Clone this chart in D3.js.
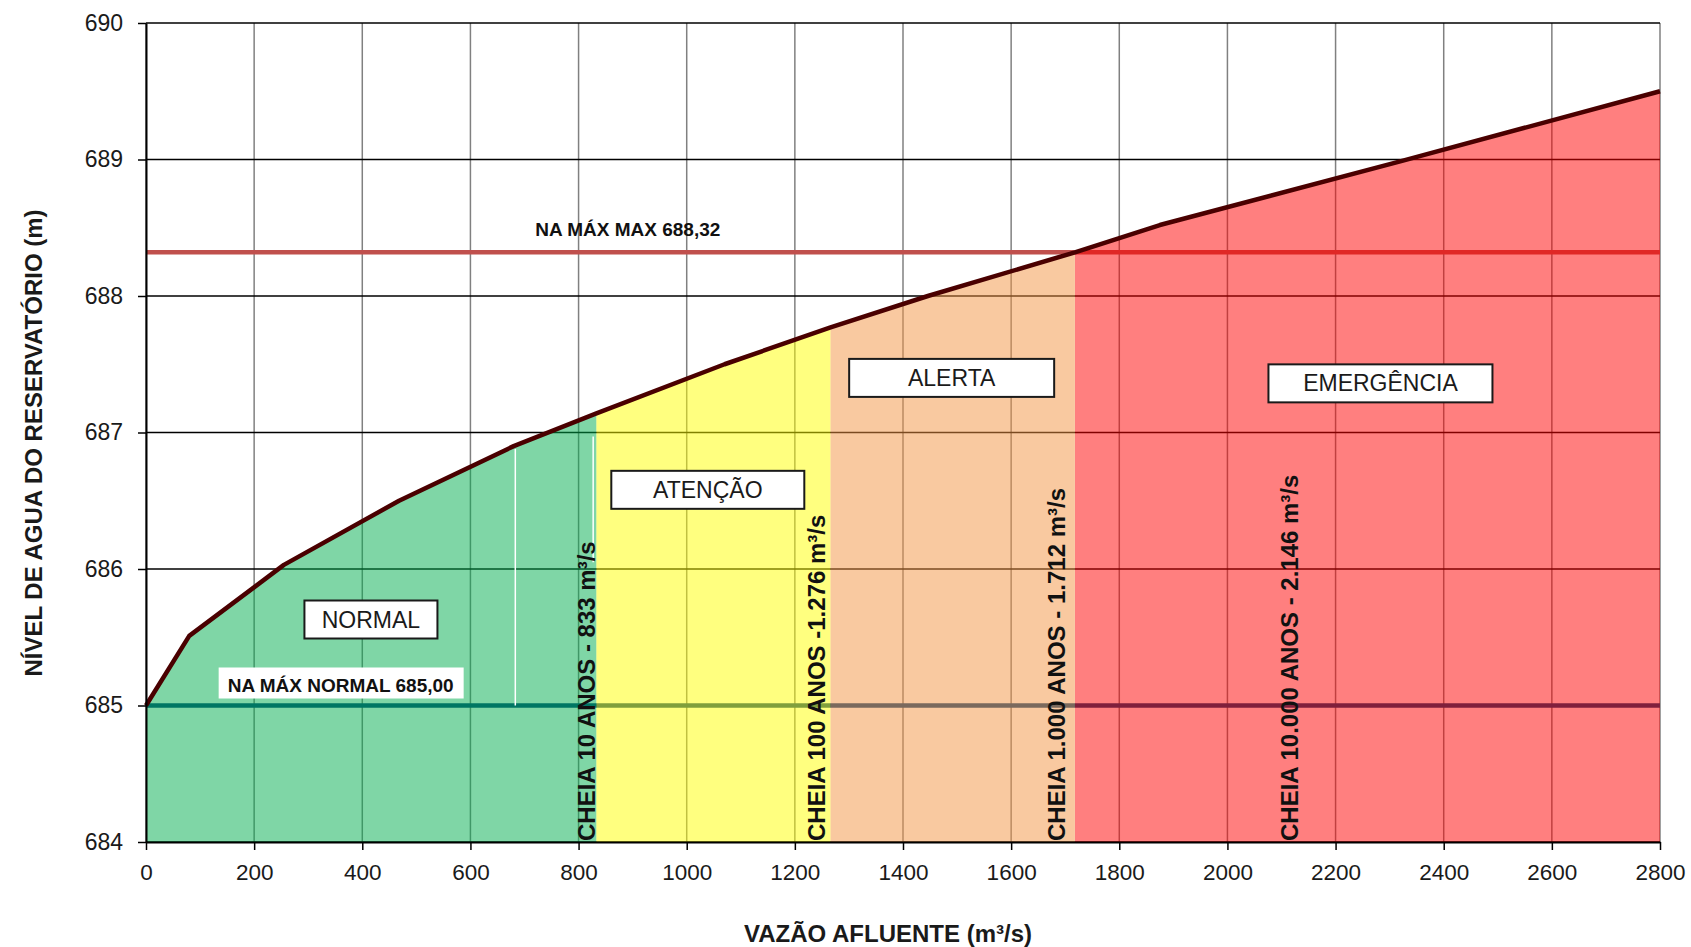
<!DOCTYPE html>
<html>
<head>
<meta charset="utf-8">
<script src="https://cdn.jsdelivr.net/npm/d3@7"></script>
<style>
    body { margin: 0; background: #fff; }
    svg { display: block; font-family: 'Liberation Sans', Arial, sans-serif; }
</style>
</head>
<body>
<svg width="1691" height="947"></svg>
<script>
// curva cota x vazão
const vazao = [0, 80, 255, 468, 680, 833, 1070, 1266, 1446, 1718, 1875, 2323, 2800];
const nivel = [685.0, 685.51, 686.03, 686.5, 686.9, 687.14, 687.5, 687.77, 688.0, 688.32, 688.52, 688.99, 689.5];

// faixas de operação
const zoneNames = ['NORMAL', 'ATENÇÃO', 'ALERTA', 'EMERGÊNCIA'];
const zoneLimits = [0, 833, 1266, 1718, 2800];
const zoneLabelX = [416, 1039, 1490, 2283];
const zoneLabelY = [685.63, 686.58, 687.4, 687.36];

// cheias
const floodLabels = [
    'CHEIA 10 ANOS - 833 m³/s',
    'CHEIA 100 ANOS -1.276 m³/s',
    'CHEIA 1.000 ANOS - 1.712 m³/s',
    'CHEIA 10.000 ANOS - 2.146 m³/s',
];
const floodLabelX = [831, 1256, 1700, 2131];

// níveis de referência
const refLevels = [685.0, 688.32];
const refLabels = ['NA MÁX NORMAL 685,00', 'NA MÁX MAX 688,32'];
const refLabelX = [360, 891];

const xTicks = d3.range(0, 2801, 200);
const yTicks = [684, 685, 686, 687, 688, 689, 690];

const zoneColors = ['#00AD4D', '#FFFF00', '#F39341', '#FF0000'];
const boxWidths = [133, 193, 205, 224];
const refColors = ['#003F78', '#C0504D'];

const margin = { top: 23, right: 31, bottom: 105, left: 146 };
const width = 1691 - margin.left - margin.right;
const height = 947 - margin.top - margin.bottom;

const xScale = d3.scaleLinear().domain([0, 2800]).range([0, width]);
const yScale = d3.scaleLinear().domain([684, 690]).range([height, 0]);

const svg = d3.select('svg');
const g = svg.append('g').attr('transform', `translate(${margin.left},${margin.top})`);

// grade
g.append('g')
    .selectAll('line')
    .data(xTicks)
    .join('line')
    .attr('x1', (d) => xScale(d))
    .attr('x2', (d) => xScale(d))
    .attr('y1', 0)
    .attr('y2', height)
    .attr('stroke', '#808080')
    .attr('stroke-width', 1.5);

g.append('g')
    .selectAll('line')
    .data(yTicks)
    .join('line')
    .attr('x1', 0)
    .attr('x2', width)
    .attr('y1', (d) => yScale(d))
    .attr('y2', (d) => yScale(d))
    .attr('stroke', '#000')
    .attr('stroke-width', 1.5);

// linhas de NA
g.append('g')
    .selectAll('line')
    .data(refLevels)
    .join('line')
    .attr('x1', 0)
    .attr('x2', width)
    .attr('y1', (d) => yScale(d))
    .attr('y2', (d) => yScale(d))
    .attr('stroke', (d, i) => refColors[i])
    .attr('stroke-width', 4.5);

const curveData = vazao.map((v, i) => ({ vazao: v, nivel: nivel[i] }));

const area = d3
    .area()
    .x((d) => xScale(d.vazao))
    .y0(yScale(684))
    .y1((d) => yScale(d.nivel));

const defs = svg.append('defs');
zoneNames.forEach((name, i) => {
    defs.append('clipPath')
        .attr('id', 'zone' + i)
        .append('rect')
        .attr('x', xScale(zoneLimits[i]))
        .attr('y', 0)
        .attr('width', xScale(zoneLimits[i + 1]) - xScale(zoneLimits[i]))
        .attr('height', height);

    g.append('path')
        .attr('d', area(curveData))
        .attr('clip-path', 'url(#zone' + i + ')')
        .attr('fill', zoneColors[i])
        .attr('fill-opacity', 0.5);
});

// traços brancos que aparecem no original
g.append('line')
    .attr('x1', xScale(683))
    .attr('x2', xScale(683))
    .attr('y1', yScale(685))
    .attr('y2', yScale(686.88))
    .attr('stroke', '#fff')
    .attr('stroke-width', 1.5);
g.append('line')
    .attr('x1', xScale(827))
    .attr('x2', xScale(827))
    .attr('y1', yScale(686.05))
    .attr('y2', yScale(686.97))
    .attr('stroke', '#fff')
    .attr('stroke-width', 1.5);

// curva
const lineGenerator = d3
    .line()
    .x((d) => xScale(d.vazao))
    .y((d) => yScale(d.nivel));

g.append('path')
    .attr('d', lineGenerator(curveData))
    .attr('fill', 'none')
    .attr('stroke', '#4a0000')
    .attr('stroke-width', 4.5)
    .attr('stroke-linejoin', 'round');

// eixos
const xAxis = g
    .append('g')
    .attr('transform', `translate(0,${height})`)
    .call(
        d3.axisBottom(xScale)
            .tickValues(xTicks)
            .tickFormat(d3.format('d'))
            .tickSize(8)
            .tickSizeOuter(0)
            .tickPadding(14)
    );
xAxis.selectAll('text').attr('font-size', '22.5px').attr('fill', '#1a1a1a');

const yAxis = g
    .append('g')
    .call(
        d3.axisLeft(yScale)
            .tickValues(yTicks)
            .tickFormat(d3.format('d'))
            .tickSize(8)
            .tickSizeOuter(0)
            .tickPadding(15)
    );
yAxis.selectAll('text').attr('font-size', '23px').attr('fill', '#1a1a1a');

[xAxis, yAxis].forEach((ax) => {
    ax.select('.domain').attr('stroke', '#000').attr('stroke-width', 2);
    ax.selectAll('.tick line').attr('stroke', '#000').attr('stroke-width', 1.5);
});

// rótulos das faixas
zoneNames.forEach((name, i) => {
    const cx = xScale(zoneLabelX[i]);
    const cy = yScale(zoneLabelY[i]);
    g.append('rect')
        .attr('x', cx - boxWidths[i] / 2)
        .attr('y', cy - 19)
        .attr('width', boxWidths[i])
        .attr('height', 38)
        .attr('fill', '#fff')
        .attr('stroke', '#1a1a1a')
        .attr('stroke-width', 2);
    g.append('text')
        .attr('x', cx)
        .attr('y', cy + 8)
        .attr('text-anchor', 'middle')
        .attr('font-size', '23px')
        .attr('fill', '#1a1a1a')
        .text(name);
});

// rótulos das cheias
floodLabels.forEach((label, i) => {
    g.append('text')
        .attr('transform', `translate(${xScale(floodLabelX[i])},${height - 1}) rotate(-90)`)
        .attr('font-size', '24px')
        .attr('font-weight', 'bold')
        .attr('fill', '#111')
        .text(label);
});

// rótulos dos NA
const normalY = yScale(refLevels[0]) - 14;
g.append('rect')
    .attr('x', xScale(refLabelX[0]) - 122)
    .attr('y', normalY - 24)
    .attr('width', 245)
    .attr('height', 31)
    .attr('fill', '#fff');
refLabels.forEach((label, i) => {
    g.append('text')
        .attr('x', xScale(refLabelX[i]))
        .attr('y', yScale(refLevels[i]) - (i === 0 ? 14 : 16))
        .attr('text-anchor', 'middle')
        .attr('font-size', '19px')
        .attr('font-weight', 'bold')
        .attr('fill', '#111')
        .text(label);
});

// títulos
svg.append('text')
    .attr('x', 888)
    .attr('y', 942)
    .attr('text-anchor', 'middle')
    .attr('font-size', '24px')
    .attr('font-weight', 'bold')
    .attr('fill', '#1a1a1a')
    .text('VAZÃO AFLUENTE (m³/s)');

svg.append('text')
    .attr('transform', 'translate(42,443) rotate(-90)')
    .attr('text-anchor', 'middle')
    .attr('font-size', '24px')
    .attr('font-weight', 'bold')
    .attr('fill', '#1a1a1a')
    .text('NÍVEL DE AGUA DO RESERVATÓRIO (m)');
</script>
</body>
</html>
